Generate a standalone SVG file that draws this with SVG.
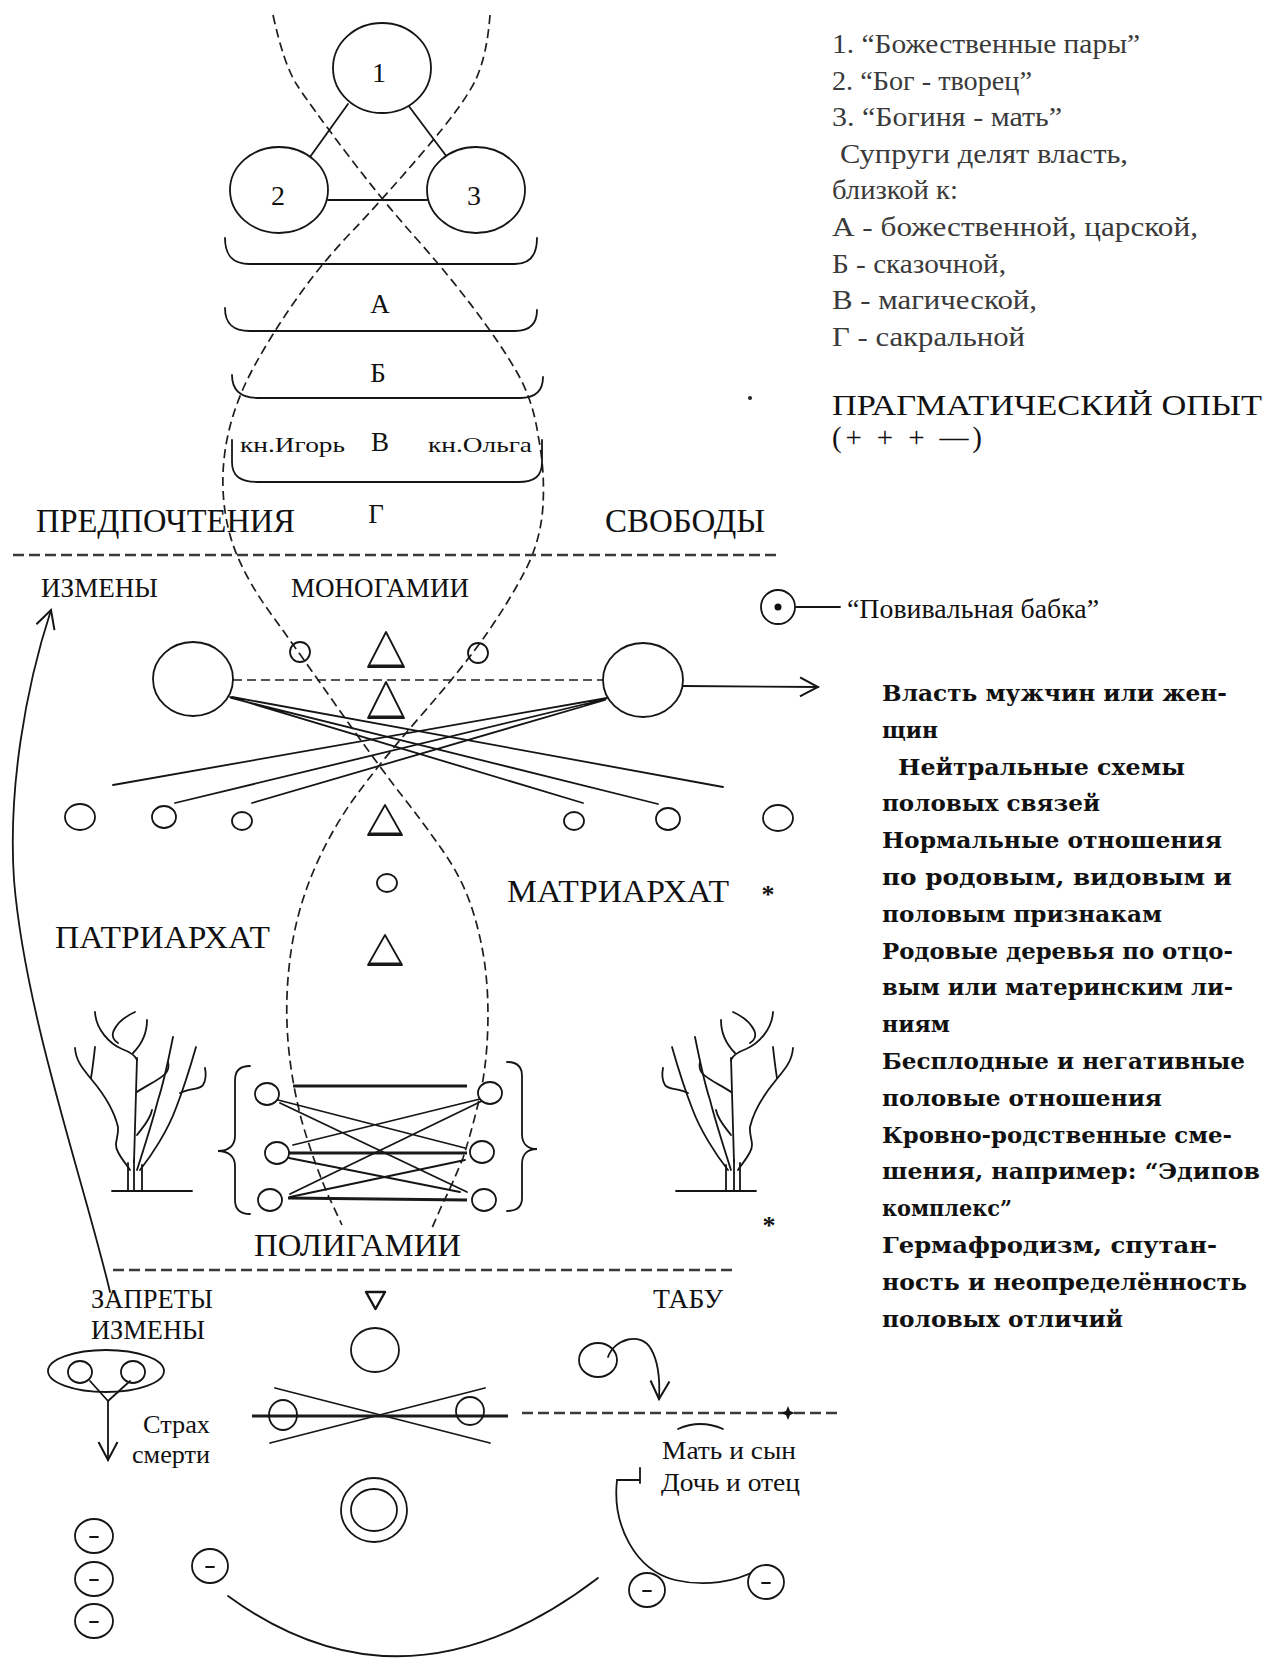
<svg xmlns="http://www.w3.org/2000/svg" xmlns:xlink="http://www.w3.org/1999/xlink" width="1274" height="1666" viewBox="0 0 1274 1666">
<style>
  .ln { stroke:#151515; stroke-width:1.8; fill:none; stroke-linecap:round; }
  .thk { stroke:#1a1a1a; stroke-width:3; fill:none; }
  .nd { stroke:#151515; stroke-width:1.8; fill:#fff; }
  .ndo { stroke:#151515; stroke-width:1.8; fill:none; }
  .dash { stroke:#1e1e1e; stroke-width:1.7; fill:none; stroke-dasharray:9 5; }
  .hdash { stroke:#3a3a3a; stroke-width:2.6; fill:none; stroke-dasharray:11 5; }
  .t { font-family:"Liberation Serif","Times New Roman",serif; fill:#111; }
  .lt { font-family:"Liberation Serif","Times New Roman",serif; fill:#3a3a3a; font-size:28px; }
  .b { font-family:"DejaVu Serif","Liberation Serif",serif; fill:#111; font-weight:bold; font-size:23px; }
</style>
<defs>
  <marker id="vhead" viewBox="0 0 22 22" refX="20" refY="11" markerWidth="22" markerHeight="22" markerUnits="userSpaceOnUse" orient="auto">
    <path d="M2,1.5 L20,11 L2,20.5" fill="none" stroke="#151515" stroke-width="2"/>
  </marker>
  <g id="tree" class="ln">
    <path d="M112,1191 H192"/>
    <path d="M128,1191 V1163 M134,1191 V1160 M142,1191 V1165"/>
    <path d="M134,1162 C135,1120 136,1085 137,1058"/>
    <path d="M95,1012 C96,1030 110,1044 122,1049 C130,1052 135,1055 137,1060"/>
    <path d="M135,1012 C126,1016 118,1022 114,1030 C111,1036 114,1041 118,1043"/>
    <path d="M147,1020 C147,1032 142,1044 133,1053"/>
    <path d="M75,1048 C76,1062 84,1070 92,1080 C102,1092 114,1110 118,1127 C119,1138 113,1143 118,1152 C122,1160 127,1165 130,1170"/>
    <path d="M95,1047 C94,1056 93,1066 91,1078"/>
    <path d="M137,1092 C145,1086 160,1080 166,1073 C169,1069 169,1066 168,1062"/>
    <path d="M173,1037 C168,1062 163,1085 158,1100 C153,1120 145,1145 137,1170"/>
    <path d="M196,1047 C190,1068 183,1090 176,1108 C168,1130 152,1155 140,1170"/>
    <path d="M180,1093 C190,1088 200,1090 203,1085 C206,1080 206,1073 205,1068"/>
    <path d="M137,1135 C143,1127 150,1120 152,1110"/>
  </g>
</defs>
<rect width="1274" height="1666" fill="#fff"/>

<!-- two interlacing dashed curves -->
<g id="connectors">
  <path class="dash" d="M273,15 Q284,65 297,85 Q310,105 346,152.5 Q382,200 414.5,236.5 Q447,273 473.5,308 Q500,343 516.5,371.5 Q533,400 538,435 Q545,470 543,505 Q541,540 525.5,570 Q510,600 487.5,632.5 Q465,665 421.5,715 Q378,765 354,798.5 Q330,832 313.5,871 Q297,910 291,951.5 Q285,993 287.5,1034 Q290,1075 301.5,1120 Q313,1160 328,1195 L342,1225"/>
  <path class="dash" d="M490,15 Q487,55 476,79 Q465,103 423.5,151.5 Q382,200 351,232.5 Q320,265 295,301 Q270,337 253,368.5 Q236,400 228.5,432.5 Q221,465 223.5,497.5 Q226,530 238,557.5 Q250,585 270,612.5 Q290,640 334,702.5 Q378,765 401.5,795 Q425,825 444,852.5 Q463,880 472.5,910 Q482,940 485.5,970 Q489,1000 487.5,1035 Q486,1070 479,1100 Q472,1130 463,1158 Q452,1185 442,1205 L432,1228"/>

  <!-- triad links -->
  <path class="ln" d="M348,104 L310,157 M408,105 L447,157 M328,200 L427,200"/>

  <!-- horizontal dividers -->
  <path class="hdash" d="M13,555 H781"/>
  <path class="hdash" d="M113,1270 H733"/>
  <path class="hdash" d="M522,1413 H838"/>
  <path d="M788,1406 L790,1411 L795,1413 L790,1415 L788,1420 L786,1415 L781,1413 L786,1411 Z" fill="#111"/>

  <!-- couple row -->
  <path class="dash" d="M233,680 H603" stroke-dasharray="12 6" stroke-width="2"/>
  <path class="ln" d="M683,686 L818,687" stroke-width="2.4" marker-end="url(#vhead)"/>
  <path class="ln" d="M230,697 L583,803 M231,698 L658,804 M232,697 L723,787"/>
  <path class="ln" d="M607,698 L113,785 M606,699 L175,803 M605,700 L252,803"/>

  <!-- long return arrow on the left -->
  <path class="ln" d="M110,1292 C85,1185 25,1015 14,880 C8,790 25,690 51,610" stroke-width="1.6" marker-end="url(#vhead)"/>

  <!-- link from midwife sign -->
  <path class="ln" d="M796,607 H840"/>

  <!-- polygamy block links -->
  <path class="thk" d="M293,1086 H467 M288,1153 H467 M288,1198 L467,1200"/>
  <path class="ln" d="M278,1100 L465,1148 M280,1103 L467,1192 M480,1099 L293,1145 M482,1101 L290,1194 M289,1158 L460,1192 M465,1160 L290,1197"/>

  <!-- prohibition crossing -->
  <path class="ln" d="M275,1388 L490,1443 M270,1443 L485,1388"/>
  <path class="thk" d="M252,1416 H508" stroke-width="2.6"/>

  <!-- fear of death -->
  <path class="ln" d="M90,1381 L108,1401 M130,1381 L108,1401"/>
  <path class="ln" d="M108,1401 L108,1460" marker-end="url(#vhead)"/>
  <path class="ln" d="M228,1596 Q405,1725 598,1578"/>

  <!-- taboo -->
  <path class="ln" d="M608,1357 C614,1339 641,1331 651,1349 C658,1361 660,1381 659,1399" marker-end="url(#vhead)"/>
  <path class="ln" d="M678,1429 Q700,1419 723,1429" stroke-width="2.6"/>
  <path class="ln" d="M640,1468 L640,1483 M640,1480 L617,1480 C612,1525 635,1570 675,1580 C705,1587 735,1582 757,1570"/>
</g>

<!-- divine triad -->
<g id="node-1"><ellipse class="nd" cx="382" cy="68" rx="49" ry="45"/><text class="t" x="379" y="82" font-size="28" text-anchor="middle">1</text></g>
<g id="node-2"><ellipse class="nd" cx="279" cy="190" rx="49" ry="43"/><text class="t" x="278" y="205" font-size="28" text-anchor="middle">2</text></g>
<g id="node-3"><ellipse class="nd" cx="476" cy="190" rx="49" ry="43"/><text class="t" x="474" y="205" font-size="28" text-anchor="middle">3</text></g>

<!-- power levels -->
<g id="levels">
  <path class="ln" d="M225,238 C225,255 232,264 250,264 L515,264 C530,264 537,255 537,238"/>
  <path class="ln" d="M225,308 C225,323 232,331 250,331 L515,331 C530,331 537,323 537,310"/>
  <path class="ln" d="M232,375 C232,390 240,398 258,398 L520,398 C536,398 543,390 543,377"/>
  <path class="ln" d="M232,440 L232,462 C232,476 240,482 258,482 L518,482 C535,482 542,476 542,462 L542,440"/>
  <text class="t" x="380" y="313" font-size="27" text-anchor="middle">А</text>
  <text class="t" x="378" y="382" font-size="27" text-anchor="middle">Б</text>
  <text class="t" x="380" y="451" font-size="27" text-anchor="middle">В</text>
  <text class="t" x="240" y="452" font-size="22" textLength="105" lengthAdjust="spacingAndGlyphs">кн.Игорь</text>
  <text class="t" x="428" y="452" font-size="22" textLength="104" lengthAdjust="spacingAndGlyphs">кн.Ольга</text>
  <text class="t" x="376" y="523" font-size="27" text-anchor="middle">Г</text>
</g>

<g id="labels-mid">
  <text class="t" x="36" y="532" font-size="33" textLength="259" lengthAdjust="spacingAndGlyphs">ПРЕДПОЧТЕНИЯ</text>
  <text class="t" x="605" y="532" font-size="33" textLength="160" lengthAdjust="spacingAndGlyphs">СВОБОДЫ</text>
  <text class="t" x="41" y="597" font-size="27" textLength="117" lengthAdjust="spacingAndGlyphs">ИЗМЕНЫ</text>
  <text class="t" x="291" y="597" font-size="27" textLength="178" lengthAdjust="spacingAndGlyphs">МОНОГАМИИ</text>
  <text class="t" x="507" y="902" font-size="32" textLength="222" lengthAdjust="spacingAndGlyphs">МАТРИАРХАТ</text>
  <text class="t" x="55" y="948" font-size="32" textLength="215" lengthAdjust="spacingAndGlyphs">ПАТРИАРХАТ</text>
  <text class="t" x="254" y="1256" font-size="32" textLength="207" lengthAdjust="spacingAndGlyphs">ПОЛИГАМИИ</text>
  <text class="t" x="768" y="903" font-size="26" font-weight="bold" text-anchor="middle">*</text>
  <text class="t" x="769" y="1234" font-size="26" font-weight="bold" text-anchor="middle">*</text>
  <circle cx="750" cy="398" r="2" fill="#222"/>
</g>

<!-- midwife sign -->
<g id="midwife">
  <circle class="nd" cx="778" cy="607" r="17"/>
  <circle cx="778" cy="607" r="3.5" fill="#111"/>
  <text class="t" x="847" y="618" font-size="27" textLength="252" lengthAdjust="spacingAndGlyphs">“Повивальная бабка”</text>
</g>

<!-- monogamy row -->
<g id="couple-left"><ellipse class="nd" cx="193" cy="679" rx="40" ry="37"/></g>
<g id="couple-right"><ellipse class="nd" cx="643" cy="680" rx="40" ry="37"/></g>
<g id="monogamy-marks">
  <ellipse class="ndo" cx="300" cy="652" rx="10" ry="10"/>
  <ellipse class="ndo" cx="478" cy="653" rx="10" ry="10"/>
  <path class="ln" d="M386,632 L368,667 H404 Z" stroke-linejoin="round"/><path class="thk" d="M369,666 H403"/>
  <path class="ln" d="M386,682 L368,718 H404 Z" stroke-linejoin="round"/><path class="thk" d="M369,717 H403"/>
  <path class="ln" d="M385,805 L368,835 H402 Z" stroke-linejoin="round"/><path class="thk" d="M369,834 H401"/>
  <ellipse class="ndo" cx="387" cy="883" rx="10" ry="9"/>
  <path class="ln" d="M385,935 L368,965 H402 Z" stroke-linejoin="round"/><path class="thk" d="M369,964 H401"/>
</g>
<g id="partners">
  <ellipse class="ndo" cx="80" cy="817" rx="15" ry="13"/>
  <ellipse class="ndo" cx="164" cy="817" rx="12" ry="11"/>
  <ellipse class="ndo" cx="242" cy="821" rx="10" ry="9"/>
  <ellipse class="ndo" cx="574" cy="821" rx="10" ry="9"/>
  <ellipse class="ndo" cx="668" cy="819" rx="12" ry="11"/>
  <ellipse class="ndo" cx="778" cy="818" rx="15" ry="13"/>
</g>

<!-- family trees -->
<g id="tree-left"><use xlink:href="#tree" href="#tree"/></g>
<g id="tree-right"><use xlink:href="#tree" href="#tree" transform="translate(868,0) scale(-1,1)"/></g>

<!-- polygamy block -->
<g id="polygamy">
  <path class="ln" d="M250,1066 C240,1066 235,1071 235,1080 L235,1136 C235,1146 228,1151 218,1151 C228,1151 235,1156 235,1166 L235,1200 C235,1210 240,1214 250,1214"/>
  <path class="ln" d="M507,1062 C517,1062 522,1067 522,1076 L522,1134 C522,1144 528,1149 537,1149 C528,1149 522,1154 522,1164 L522,1198 C522,1207 517,1211 507,1211"/>
  <ellipse class="nd" cx="267" cy="1094" rx="12" ry="11"/>
  <ellipse class="nd" cx="277" cy="1153" rx="12" ry="11"/>
  <ellipse class="nd" cx="270" cy="1200" rx="12" ry="11"/>
  <ellipse class="nd" cx="490" cy="1093" rx="12" ry="11"/>
  <ellipse class="nd" cx="482" cy="1152" rx="12" ry="11"/>
  <ellipse class="nd" cx="484" cy="1200" rx="12" ry="11"/>
</g>

<!-- legend, top right -->
<g id="legend">
  <text class="lt" x="832" y="53" textLength="308" lengthAdjust="spacingAndGlyphs">1. “Божественные пары”</text>
  <text class="lt" x="832" y="90" textLength="200" lengthAdjust="spacingAndGlyphs">2. “Бог - творец”</text>
  <text class="lt" x="832" y="126" textLength="230" lengthAdjust="spacingAndGlyphs">3. “Богиня - мать”</text>
  <text class="lt" x="840" y="163" textLength="288" lengthAdjust="spacingAndGlyphs">Супруги делят власть,</text>
  <text class="lt" x="832" y="199" textLength="126" lengthAdjust="spacingAndGlyphs">близкой к:</text>
  <text class="lt" x="832" y="236" textLength="366" lengthAdjust="spacingAndGlyphs">А - божественной,  царской,</text>
  <text class="lt" x="832" y="273" textLength="174" lengthAdjust="spacingAndGlyphs">Б - сказочной,</text>
  <text class="lt" x="832" y="309" textLength="205" lengthAdjust="spacingAndGlyphs">В - магической,</text>
  <text class="lt" x="832" y="346" textLength="193" lengthAdjust="spacingAndGlyphs">Г - сакральной</text>
  <text class="t" x="832" y="415" font-size="30" textLength="430" lengthAdjust="spacingAndGlyphs">ПРАГМАТИЧЕСКИЙ ОПЫТ</text>
  <text class="t" x="832" y="447" font-size="29" textLength="150" lengthAdjust="spacing">(+ + + —)</text>
</g>

<!-- notes, right column -->
<g id="notes">
  <text class="b" x="882" y="701" textLength="345" lengthAdjust="spacingAndGlyphs">Власть мужчин или жен-</text>
  <text class="b" x="882" y="738" textLength="56" lengthAdjust="spacingAndGlyphs">щин</text>
  <text class="b" x="898" y="775" textLength="287" lengthAdjust="spacingAndGlyphs">Нейтральные  схемы</text>
  <text class="b" x="882" y="811" textLength="218" lengthAdjust="spacingAndGlyphs">половых связей</text>
  <text class="b" x="882" y="848" textLength="340" lengthAdjust="spacingAndGlyphs">Нормальные отношения</text>
  <text class="b" x="882" y="885" textLength="350" lengthAdjust="spacingAndGlyphs">по родовым,   видовым и</text>
  <text class="b" x="882" y="922" textLength="280" lengthAdjust="spacingAndGlyphs">половым признакам</text>
  <text class="b" x="882" y="959" textLength="351" lengthAdjust="spacingAndGlyphs">Родовые деревья по отцо-</text>
  <text class="b" x="882" y="995" textLength="351" lengthAdjust="spacingAndGlyphs">вым или материнским ли-</text>
  <text class="b" x="882" y="1032" textLength="68" lengthAdjust="spacingAndGlyphs">ниям</text>
  <text class="b" x="882" y="1069" textLength="363" lengthAdjust="spacingAndGlyphs">Бесплодные и негативные</text>
  <text class="b" x="882" y="1106" textLength="280" lengthAdjust="spacingAndGlyphs">половые отношения</text>
  <text class="b" x="882" y="1143" textLength="350" lengthAdjust="spacingAndGlyphs">Кровно-родственные сме-</text>
  <text class="b" x="882" y="1179" textLength="378" lengthAdjust="spacingAndGlyphs">шения, например: “Эдипов</text>
  <text class="b" x="882" y="1216" textLength="130" lengthAdjust="spacingAndGlyphs">комплекс”</text>
  <text class="b" x="882" y="1253" textLength="335" lengthAdjust="spacingAndGlyphs">Гермафродизм, спутан-</text>
  <text class="b" x="882" y="1290" textLength="365" lengthAdjust="spacingAndGlyphs">ность и неопределённость</text>
  <text class="b" x="882" y="1327" textLength="241" lengthAdjust="spacingAndGlyphs">половых отличий</text>
</g>

<!-- prohibitions -->
<g id="prohibitions">
  <text class="t" x="91" y="1308" font-size="27" textLength="122" lengthAdjust="spacingAndGlyphs">ЗАПРЕТЫ</text>
  <text class="t" x="91" y="1339" font-size="27" textLength="114" lengthAdjust="spacingAndGlyphs">ИЗМЕНЫ</text>
  <ellipse class="ndo" cx="106" cy="1371" rx="58" ry="21"/>
  <ellipse class="ndo" cx="80" cy="1372" rx="12" ry="11"/>
  <ellipse class="ndo" cx="133" cy="1372" rx="12" ry="11"/>
  <text class="t" x="210" y="1433" font-size="25" text-anchor="end" textLength="67" lengthAdjust="spacingAndGlyphs">Страх</text>
  <text class="t" x="210" y="1463" font-size="25" text-anchor="end" textLength="78" lengthAdjust="spacingAndGlyphs">смерти</text>
</g>
<g id="minus-nodes" class="ln">
  <ellipse cx="94" cy="1536" rx="19" ry="17"/><path d="M90,1537 H98"/>
  <ellipse cx="94" cy="1579" rx="19" ry="17"/><path d="M90,1580 H98"/>
  <ellipse cx="94" cy="1621" rx="19" ry="17"/><path d="M90,1622 H98"/>
  <ellipse cx="210" cy="1566" rx="18" ry="17"/><path d="M206,1567 H214"/>
  <ellipse cx="647" cy="1590" rx="18" ry="17" fill="#fff"/><path d="M643,1591 H651"/>
  <ellipse cx="766" cy="1582" rx="18" ry="17" fill="#fff"/><path d="M762,1583 H770"/>
</g>

<!-- centre column, lower part -->
<g id="centre-low">
  <path d="M366,1292 L385,1292 L375.5,1309 Z" fill="none" stroke="#151515" stroke-width="2.4" stroke-linejoin="round"/>
  <ellipse class="ndo" cx="375" cy="1350" rx="24" ry="22"/>
  <ellipse class="ndo" cx="283" cy="1415" rx="14" ry="15"/>
  <ellipse class="ndo" cx="470" cy="1411" rx="14" ry="14"/>
  <ellipse class="ndo" cx="374" cy="1510" rx="33" ry="32"/>
  <ellipse class="ndo" cx="374" cy="1510" rx="23" ry="21"/>
</g>

<!-- taboo -->
<g id="taboo">
  <text class="t" x="653" y="1308" font-size="27" textLength="70" lengthAdjust="spacingAndGlyphs">ТАБУ</text>
  <ellipse class="ndo" cx="598" cy="1360" rx="19" ry="17"/>
  <text class="t" x="662" y="1459" font-size="25" textLength="134" lengthAdjust="spacingAndGlyphs">Мать и сын</text>
  <text class="t" x="661" y="1491" font-size="25" textLength="139" lengthAdjust="spacingAndGlyphs">Дочь и отец</text>
</g>
</svg>
